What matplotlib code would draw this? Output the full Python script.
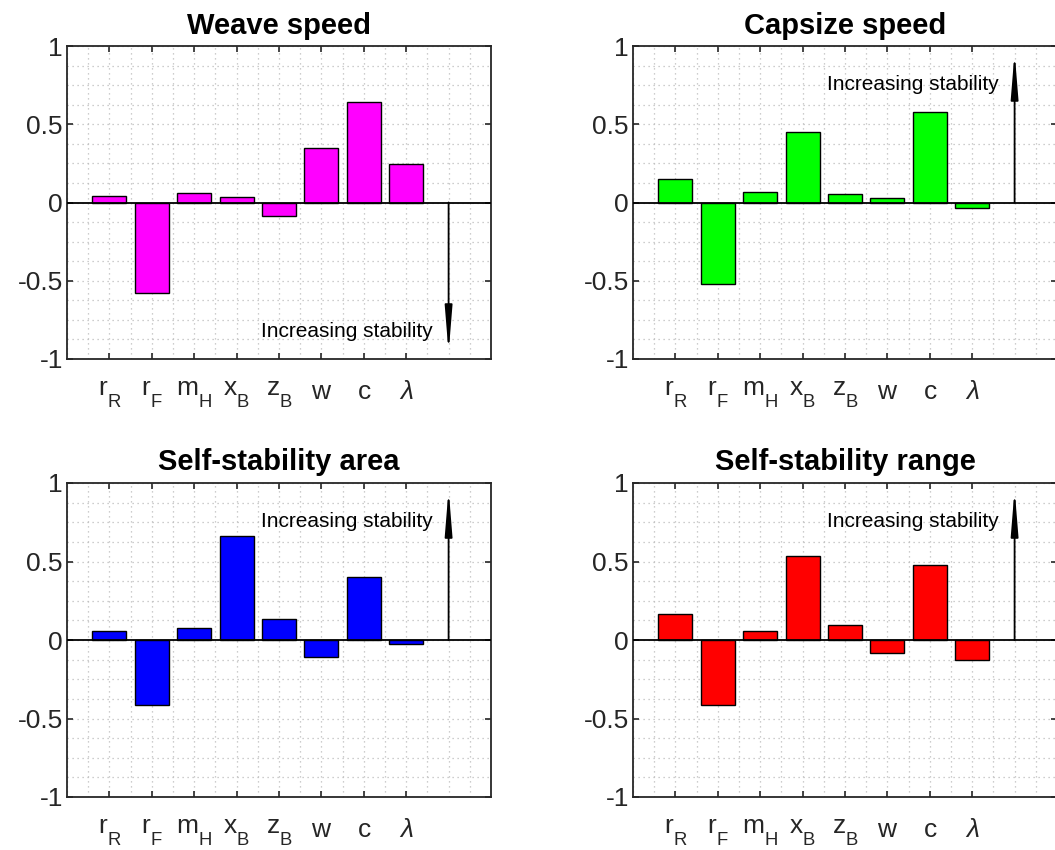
import numpy as np
import matplotlib

matplotlib.use("Agg")
import matplotlib.pyplot as plt
import matplotlib._mathtext as mathtext_internals
from matplotlib.ticker import MultipleLocator

plt.rcParams["font.family"] = ["Liberation Sans", "DejaVu Sans"]
plt.rcParams["mathtext.fontset"] = "custom"
plt.rcParams["mathtext.rm"] = "Liberation Sans"
plt.rcParams["mathtext.it"] = "Liberation Sans:italic"

# drop the subscripts a bit lower, like the TeX labels in the original
mathtext_internals.FontConstantsBase.sub1 = 0.9

# -----------------------------------------------------------------------------

labels = [r"$\mathrm{r_R}$", r"$\mathrm{r_F}$", r"$\mathrm{m_H}$", r"$\mathrm{x_B}$",
          r"$\mathrm{z_B}$", r"$\mathrm{w}$", r"$\mathrm{c}$", r"$\lambda$"]

weave = [0.042, -0.58, 0.059, 0.038, -0.085, 0.348, 0.641, 0.246]
capsize = [0.149, -0.519, 0.064, 0.451, 0.057, 0.028, 0.581, -0.038]
area = [0.055, -0.411, 0.076, 0.661, 0.131, -0.108, 0.403, -0.025]
rng = [0.167, -0.417, 0.059, 0.532, 0.095, -0.085, 0.479, -0.125]

titles = ["Weave speed", "Capsize speed", "Self-stability area", "Self-stability range"]
colors = ["#ff00ff", "#00ff00", "#0000ff", "#ff0000"]
series = [weave, capsize, area, rng]
# +1: stability grows upward, -1: downward
direction = [-1, 1, 1, 1]

# -----------------------------------------------------------------------------

fig = plt.figure(figsize=(10.55, 8.5), dpi=100)

W = 424 / 1055
boxes = [
    (67 / 1055, 491 / 850, W, 313 / 850),
    (633 / 1055, 491 / 850, W, 313 / 850),
    (67 / 1055, 53 / 850, W, 314 / 850),
    (633 / 1055, 53 / 850, W, 314 / 850),
]

x = np.arange(1, len(labels) + 1)
dark = "#262626"

for box, title, color, vals, d in zip(boxes, titles, colors, series, direction):
    ax = fig.add_axes(box)
    ax.bar(x, vals, width=0.8, color=color, edgecolor="k", linewidth=1.0, zorder=3)
    ax.axhline(0, color="k", linewidth=1.3, zorder=4)

    ax.set_xlim(0, 10)
    ax.set_ylim(-1, 1)
    ax.set_xticks(x)
    ax.set_xticklabels(labels)
    ax.set_yticks([-1, -0.5, 0, 0.5, 1])
    ax.set_yticklabels(["-1", "-0.5", "0", "0.5", "1"])
    ax.xaxis.set_minor_locator(MultipleLocator(0.5))
    ax.yaxis.set_minor_locator(MultipleLocator(0.125))

    ax.grid(which="both", linestyle=(0, (1, 3)), color="#bdbdbd", linewidth=0.9, zorder=0)
    ax.set_axisbelow(True)

    ax.tick_params(which="major", direction="in", length=4.5, width=1.2,
                   top=True, right=True, colors=dark, labelsize=19)
    ax.tick_params(which="minor", length=0)
    ax.tick_params(axis="x", pad=15)
    ax.tick_params(axis="y", pad=3)
    for s in ax.spines.values():
        s.set_linewidth(1.3)
        s.set_color(dark)

    ax.set_title(title, fontsize=21, fontweight="bold", pad=9)

    # arrow and note
    tip = 0.96 * d
    ax.annotate("", xy=(9, tip), xytext=(9, 0),
                arrowprops=dict(arrowstyle="-|>,head_length=2.7,head_width=0.22",
                                color="k", linewidth=1.3, shrinkA=0, shrinkB=0),
                zorder=5)
    ax.text(8.62, 0.79 * d - 0.035, "Increasing stability", ha="right", va="center",
            fontsize=15, color="k", zorder=5)

fig.savefig("out.png", dpi=100)
